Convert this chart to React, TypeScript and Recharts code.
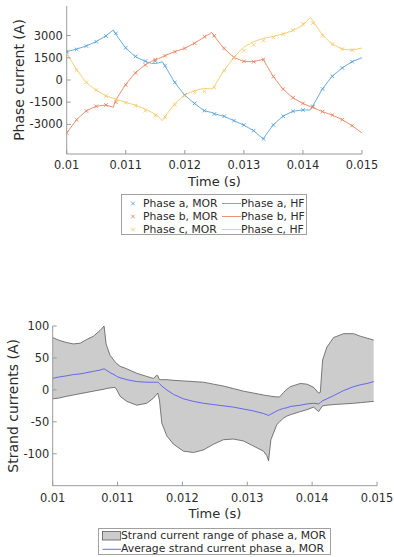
import React from 'react';
import { ComposedChart, Line, Scatter, XAxis, YAxis, Area, Label } from 'recharts';

// ---------- Top chart: phase currents ----------
const hfTime = [0.01, 0.010169, 0.010327, 0.010496, 0.010665, 0.010789, 0.010823, 0.010992, 0.011156, 0.011325, 0.011437, 0.011494, 0.01155, 0.011618, 0.011663, 0.011826, 0.011996, 0.012159, 0.012322, 0.012458, 0.012492, 0.012661, 0.01283, 0.012993, 0.013162, 0.013326, 0.013495, 0.013658, 0.013827, 0.013991, 0.014126, 0.01416, 0.014329, 0.014493, 0.014662, 0.014831, 0.015];
const hfPhaseA = [1912, 2090, 2295, 2587, 2992, 3375, 3150, 2182, 1597, 1260, 1125, 1120, 1147, 1237, 967, -157, -1012, -1575, -2070, -2200, -2272, -2452, -2745, -3037, -3420, -3982, -3037, -2452, -2115, -2025, -2025, -1800, -607, 247, 810, 1237, 1507];
const hfPhaseB = [-3577, -2677, -2092, -1777, -1687, -1845, -1395, -337, 472, 1012, 1260, 1372, 1440, 1560, 1642, 1912, 2137, 2475, 2880, 3217, 2992, 2137, 1530, 1260, 1237, 1395, 247, -607, -1192, -1575, -1800, -1845, -2137, -2362, -2677, -3082, -3577];
const hfPhaseC = [1800, 697, -157, -675, -1080, -1240, -1282, -1507, -1687, -1957, -2180, -2300, -2450, -2745, -2475, -1620, -1000, -720, -562, -607, -450, 630, 1530, 2205, 2587, 2812, 2947, 3105, 3330, 3667, 4230, 4050, 3037, 2430, 2092, 2025, 2160];

const morTime = [0.01, 0.010167, 0.010333, 0.0105, 0.010667, 0.010833, 0.011, 0.011167, 0.011333, 0.0115, 0.011667, 0.011833, 0.012, 0.012167, 0.012333, 0.0125, 0.012667, 0.012833, 0.013, 0.013167, 0.013333, 0.0135, 0.013667, 0.013833, 0.014, 0.014167, 0.014333, 0.0145, 0.014667, 0.014833];
const morPhaseA = [1912, 2070, 2295, 2587, 2970, 3150, 2182, 1597, 1282, 1282, 967, -157, -1012, -1575, -2070, -2295, -2452, -2745, -3037, -3420, -3982, -3037, -2452, -2115, -2025, -1777, -607, 247, 810, 1237];
const morPhaseB = [-3577, -2677, -2092, -1777, -1687, -1507, -337, 472, 1012, 1372, 1642, 1912, 2137, 2475, 2925, 2992, 2137, 1530, 1260, 1237, 1395, 247, -607, -1192, -1575, -1845, -2137, -2362, -2677, -3082];
const morPhaseC = [1755, 675, -157, -675, -1080, -1350, -1530, -1732, -2070, -2407, -2520, -1665, -1057, -832, -765, -495, 630, 1530, 1980, 2385, 2655, 2880, 3105, 3375, 3780, 3847, 2992, 2430, 2092, 2025];

const timeTicks = [0.01, 0.011, 0.012, 0.013, 0.014, 0.015];
const timeTickLabels = ['0.01', '0.011', '0.012', '0.013', '0.014', '0.015'];
const phaseTicks = [-3000, -1500, 0, 1500, 3000];
const phaseTickLabels = ['-3000', '-1500', '0', '1500', '3000'];

const topLegendMor = ['Phase a, MOR', 'Phase b, MOR', 'Phase c, MOR'];
const topLegendHf = ['Phase a, HF', 'Phase b, HF', 'Phase c, HF'];

// ---------- Bottom chart: strand currents ----------
const stTime = [0.01, 0.010087, 0.010216, 0.010319, 0.010422, 0.010525, 0.010628, 0.01073, 0.010792, 0.010823, 0.010885, 0.010962, 0.010988, 0.011039, 0.011142, 0.011296, 0.011451, 0.011553, 0.011605, 0.01162, 0.011646, 0.011682, 0.011759, 0.011862, 0.012016, 0.012171, 0.012325, 0.012479, 0.012634, 0.012788, 0.012942, 0.013097, 0.013251, 0.013302, 0.013328, 0.013364, 0.013457, 0.013498, 0.01356, 0.013611, 0.013663, 0.013817, 0.01392, 0.014023, 0.0141, 0.014126, 0.014161, 0.014228, 0.014331, 0.014486, 0.01464, 0.014743, 0.014846, 0.014949];
const stUpper = [82, 78, 74, 72, 73, 79, 84, 93, 100, 72, 54, 44, 41, 37, 33, 26, 21, 18, 23, 22, 16, 16, 16, 15, 14, 13, 12, 9, 6, 2, -2, -5, -8, -9, -9, -10, -11, -11, -4, 1, 5, 10, 9, 4, -5, -4, 47, 67, 82, 88, 88, 84, 81, 78];
const stLower = [-14, -13, -10, -8, -6, -4, -2, 0, 1, 2, 3, 4, 0, -10, -18, -24, -21, -13, -7, -5, -16, -52, -72, -85, -96, -98, -94, -85, -78, -77, -80, -88, -96, -103, -111, -78, -54, -50, -44, -41, -39, -34, -31, -27, -34, -30, -25, -24, -23, -22, -21, -20, -19, -18];
const stAverage = [18, 20, 22, 24, 25, 27, 29, 31, 33, 31, 27, 23, 21, 19, 16, 13, 12, 12, 12, 12, 10, 6, 0, -7, -14, -18, -21, -23, -25, -27, -30, -33, -37, -39, -40, -38, -33, -31, -29, -28, -26, -24, -22, -21, -22, -20, -17, -14, -9, -1, 5, 8, 10, 13];

const strandTicks = [-100, -50, 0, 50, 100];
const strandTickLabels = ['-100', '-50', '0', '50', '100'];
const bottomLegend = ['Strand current range of phase a, MOR', 'Average strand current phase a, MOR'];

// ---------- derived tables ----------
const hfData = hfTime.map((t, i) => ({ t, a: hfPhaseA[i], b: hfPhaseB[i], c: hfPhaseC[i] }));
const morData = morTime.map((t, i) => ({ t, a: morPhaseA[i], b: morPhaseB[i], c: morPhaseC[i] }));
const strandData = stTime.map((t, i) => ({ t, range: [stLower[i], stUpper[i]], avg: stAverage[i] }));

const FONT = "'DejaVu Sans', Verdana, sans-serif";
const TXT = '#2b2b2b';
const AX = '#9a9a9a';
const C_A = '#5aa3db';
const C_B = '#ea8463';
const C_C = '#f5ca6a';
const C_AVG = '#5a5af2';

function XMark(props: any) {
  const { cx, cy, color } = props;
  if (cx == null || cy == null) return <g />;
  const s = 1.8;
  return (
    <path
      d={`M${cx - s},${cy - s}L${cx + s},${cy + s}M${cx - s},${cy + s}L${cx + s},${cy - s}`}
      stroke={color}
      strokeWidth={0.9}
      fill="none"
    />
  );
}

const tickStyle = { fill: TXT, fontSize: 11.4 };

function TopChart() {
  return (
    <ComposedChart width={394} height={200} margin={{ top: 6, right: 32, bottom: 0, left: 0 }}>
      <XAxis xAxisId="b" dataKey="t" type="number" domain={[0.01, 0.015]} allowDataOverflow ticks={timeTicks}
        interval={0} tickFormatter={(v: any, i: number) => timeTickLabels[i]} height={46} tickSize={-4} tickMargin={11}
        stroke={AX} tick={tickStyle}>
        <Label value="Time (s)" position="insideBottom" offset={14} fill={TXT} fontSize={13} />
      </XAxis>
      <XAxis xAxisId="t" orientation="top" dataKey="t" type="number" domain={[0.01, 0.015]} allowDataOverflow ticks={timeTicks}
        interval={0} height={0} tick={false} tickSize={-4} stroke={AX} />
      <YAxis yAxisId="l" type="number" domain={[-5000, 5000]} allowDataOverflow ticks={phaseTicks} interval={0}
        tickFormatter={(v: any, i: number) => phaseTickLabels[i]} width={66.7} tickSize={-4} tickMargin={8}
        stroke={AX} tick={tickStyle}>
        <Label value="Phase current (A)" angle={-90} position="insideLeft" offset={19} fill={TXT} fontSize={14}
          style={{ textAnchor: 'middle' }} />
      </YAxis>
      <YAxis yAxisId="r" orientation="right" type="number" domain={[-5000, 5000]} allowDataOverflow ticks={phaseTicks}
        interval={0} width={0} tick={false} tickSize={-4} stroke={AX} />
      <Scatter xAxisId="b" yAxisId="l" data={morData} dataKey="a" isAnimationActive={false}
        shape={(p: any) => <XMark {...p} color={C_A} />} />
      <Scatter xAxisId="b" yAxisId="l" data={morData} dataKey="b" isAnimationActive={false}
        shape={(p: any) => <XMark {...p} color={C_B} />} />
      <Scatter xAxisId="b" yAxisId="l" data={morData} dataKey="c" isAnimationActive={false}
        shape={(p: any) => <XMark {...p} color={C_C} />} />
      <Line xAxisId="b" yAxisId="l" data={hfData} dataKey="a" type="linear" stroke={C_A} strokeWidth={0.9} dot={false}
        activeDot={false} isAnimationActive={false} />
      <Line xAxisId="b" yAxisId="l" data={hfData} dataKey="b" type="linear" stroke={C_B} strokeWidth={0.9} dot={false}
        activeDot={false} isAnimationActive={false} />
      <Line xAxisId="b" yAxisId="l" data={hfData} dataKey="c" type="linear" stroke={C_C} strokeWidth={0.9} dot={false}
        activeDot={false} isAnimationActive={false} />
    </ComposedChart>
  );
}

function BottomChart() {
  return (
    <ComposedChart width={394} height={230} data={strandData} margin={{ top: 26, right: 17, bottom: 0, left: 0 }}>
      <XAxis xAxisId="b" dataKey="t" type="number" domain={[0.01, 0.015]} allowDataOverflow ticks={timeTicks}
        interval={0} tickFormatter={(v: any, i: number) => timeTickLabels[i]} height={44.3} tickSize={-4} tickMargin={12}
        stroke={AX} tick={tickStyle}>
        <Label value="Time (s)" position="insideBottom" offset={12} fill={TXT} fontSize={13} />
      </XAxis>
      <XAxis xAxisId="t" orientation="top" dataKey="t" type="number" domain={[0.01, 0.015]} allowDataOverflow ticks={timeTicks}
        interval={0} height={0} tick={false} tickSize={-4} stroke={AX} />
      <YAxis yAxisId="l" type="number" domain={[-150, 100]} allowDataOverflow ticks={strandTicks} interval={0}
        tickFormatter={(v: any, i: number) => strandTickLabels[i]} width={52.7} tickSize={-4} tickMargin={7.4}
        stroke={AX} tick={tickStyle}>
        <Label value="Strand currents (A)" angle={-90} position="insideLeft" offset={13} fill={TXT} fontSize={14}
          style={{ textAnchor: 'middle' }} />
      </YAxis>
      <YAxis yAxisId="r" orientation="right" type="number" domain={[-150, 100]} allowDataOverflow ticks={strandTicks}
        interval={0} width={0} tick={false} tickSize={-4} stroke={AX} />
      <Area xAxisId="b" yAxisId="l" dataKey="range" type="linear" stroke="#5a5a5a" strokeWidth={0.8} fill="#cccccc"
        fillOpacity={1} dot={false} activeDot={false} isAnimationActive={false} />
      <Line xAxisId="b" yAxisId="l" dataKey="avg" type="linear" stroke={C_AVG} strokeWidth={0.9} dot={false}
        activeDot={false} isAnimationActive={false} />
    </ComposedChart>
  );
}

const legendText: React.CSSProperties = {
  position: 'absolute', fontSize: 10.8, lineHeight: '13px', color: TXT, whiteSpace: 'nowrap',
};

function TopLegend() {
  const colors = [C_A, C_B, C_C];
  return (
    <div style={{ position: 'absolute', left: 121, top: 194, width: 184, height: 39, border: '1px solid #a0a0a0', background: '#fff' }}>
      {topLegendMor.map((label, i) => (
        <React.Fragment key={label}>
          <svg style={{ position: 'absolute', left: 7, top: 1.5 + i * 13, overflow: 'visible' }} width={8} height={13}>
            <path d="M2.2,4.7L5.8,8.3M2.2,8.3L5.8,4.7" stroke={colors[i]} strokeWidth={0.9} fill="none" />
          </svg>
          <span style={{ ...legendText, left: 21, top: 1.5 + i * 13 }}>{label}</span>
          <svg style={{ position: 'absolute', left: 100, top: 1.5 + i * 13, overflow: 'visible' }} width={20} height={13}>
            <line x1={0} y1={6.5} x2={19} y2={6.5} stroke={colors[i]} strokeWidth={0.9} />
          </svg>
          <span style={{ ...legendText, left: 119, top: 1.5 + i * 13 }}>{topLegendHf[i]}</span>
        </React.Fragment>
      ))}
    </div>
  );
}

function BottomLegend() {
  return (
    <div style={{ position: 'absolute', left: 98, top: 527.5, width: 231, height: 25, border: '1px solid #a0a0a0', background: '#fff' }}>
      <svg style={{ position: 'absolute', left: 3, top: 0, overflow: 'visible' }} width={20} height={26}>
        <rect x={0.5} y={2.5} width={18} height={8.5} fill="#cccccc" stroke="#5a5a5a" strokeWidth={0.8} />
        <line x1={0.5} y1={20.3} x2={19} y2={20.3} stroke={C_AVG} strokeWidth={0.9} />
      </svg>
      <span style={{ ...legendText, left: 22, top: 0.5 }}>{bottomLegend[0]}</span>
      <span style={{ ...legendText, left: 22, top: 13.8 }}>{bottomLegend[1]}</span>
    </div>
  );
}

export default function App() {
  return (
    <div style={{ position: 'absolute', left: 0, top: 0, width: 394, height: 557, background: '#fff', fontFamily: FONT, overflow: 'hidden' }}>
      <div style={{ position: 'absolute', left: 0, top: 0 }}>
        <TopChart />
      </div>
      <div style={{ position: 'absolute', left: 0, top: 300 }}>
        <BottomChart />
      </div>
      <TopLegend />
      <BottomLegend />
    </div>
  );
}
